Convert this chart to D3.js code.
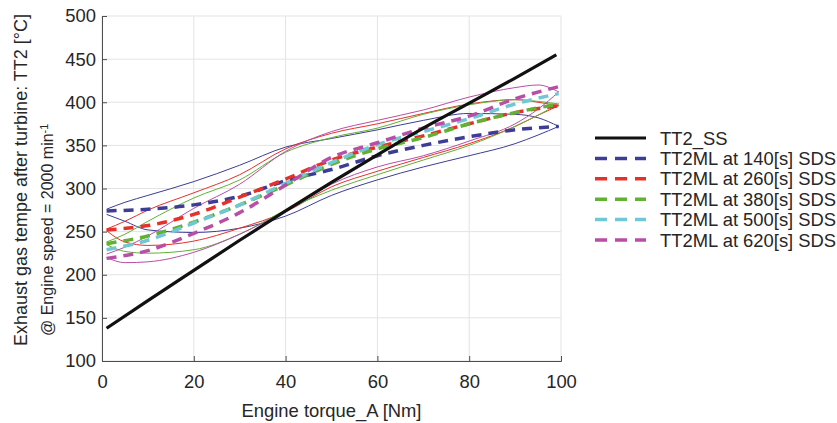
<!DOCTYPE html>
<html>
<head>
<meta charset="utf-8">
<script src="https://cdn.jsdelivr.net/npm/d3@7"></script>
<style>
  body { margin: 0; background: #fff; }
  text { font-family: "Liberation Sans", Arial, sans-serif; fill: #262626; }
</style>
</head>
<body>
<div id="div_canvas"></div>
<script>
// x positions of the sampled points
var xSS = [1, 10, 20, 30, 40, 50, 60, 70, 80, 90, 99];
var xMean = [1, 10, 20, 30, 40, 50, 60, 70, 80, 90, 99.5];
var xLoop = [1, 5, 10, 20, 30, 40, 50, 60, 70, 80, 90, 95, 99.5];

// steady state
var tt2SS = [138, 170, 205, 240, 274, 307, 339, 370, 399, 428, 455];

// dashed mean lines
var mean140 = [274, 276, 281, 291, 309, 322, 338, 350, 360, 368, 372];
var mean260 = [252, 257, 270, 290, 311, 333, 348, 361, 375, 388, 396];
var mean380 = [236, 245, 261, 281, 304, 328, 346, 359, 375, 388, 398];
var mean500 = [229, 240, 260, 281, 306, 330, 351, 366, 381, 398, 410];
var mean620 = [219, 228, 248, 272, 304, 336, 353, 370, 384, 404, 418];

// thin hysteresis loops (upper and lower branch)
var up140 = [276, 284, 292, 308, 327, 348, 358, 368, 379, 387, 386, 382, 372];
var lo140 = [270, 262, 252, 249, 254, 268, 292, 310, 325, 338, 352, 362, 372];
var up260 = [253, 262, 275, 295, 316, 346, 364, 375, 387, 398, 403, 400, 396];
var lo260 = [251, 238, 234, 239, 254, 273, 302, 320, 336, 352, 372, 385, 396];
var up380 = [238, 247, 262, 289, 310, 342, 359, 370, 386, 397, 403, 401, 398];
var lo380 = [235, 227, 225, 229, 247, 275, 298, 316, 333, 350, 372, 385, 398];
var up620 = [224, 232, 245, 277, 305, 343, 366, 379, 391, 406, 417, 420, 412];
var lo620 = [220, 214, 215, 226, 247, 274, 305, 325, 338, 355, 375, 392, 412];

var yTicks = [100, 150, 200, 250, 300, 350, 400, 450, 500];
var xTicks = [0, 20, 40, 60, 80, 100];

var legendNames = ["TT2_SS", "TT2ML at 140[s] SDS", "TT2ML at 260[s] SDS",
    "TT2ML at 380[s] SDS", "TT2ML at 500[s] SDS", "TT2ML at 620[s] SDS"];
var colors = ["#111111", "#3d3d97", "#e8302b", "#61b133", "#6fc8d4", "#b84ea6"];

var margin = { left: 102, top: 16 };
var width = 459;
var height = 345;

var svg = d3.select("#div_canvas").append("svg")
    .attr("width", 837)
    .attr("height", 423);

var g = svg.append("g")
    .attr("transform", "translate(" + margin.left + "," + margin.top + ")");

var x = d3.scaleLinear().domain([0, 100]).range([0, width]);
var y = d3.scaleLinear().domain([100, 500]).range([height, 0]);

// grid
g.selectAll(".gx").data(xTicks).enter().append("line")
    .attr("x1", d => x(d)).attr("x2", d => x(d))
    .attr("y1", 0).attr("y2", height)
    .attr("stroke", "#e3e3e3").attr("stroke-width", 1);
g.selectAll(".gy").data(yTicks).enter().append("line")
    .attr("x1", 0).attr("x2", width)
    .attr("y1", d => y(d)).attr("y2", d => y(d))
    .attr("stroke", "#e3e3e3").attr("stroke-width", 1);

// axes
var xAxis = d3.axisBottom(x).tickValues(xTicks).tickSize(-5).tickPadding(14);
var gx = g.append("g").attr("transform", "translate(0," + height + ")").call(xAxis);
var yAxis = d3.axisLeft(y).tickValues(yTicks).tickSize(-5).tickPadding(6);
var gy = g.append("g").call(yAxis);
[gx, gy].forEach(a => {
    a.select(".domain").attr("stroke", "#4d4d4d");
    a.selectAll(".tick line").attr("stroke", "#4d4d4d");
    a.selectAll("text").style("font-size", "18.4px")
        .style("font-family", "'Liberation Sans', Arial, sans-serif").attr("fill", "#262626");
});

function pts(xs, ys) {
    return xs.map((v, i) => [v, ys[i]]);
}
var line = d3.line()
    .x(d => x(d[0]))
    .y(d => y(d[1]))
    .curve(d3.curveMonotoneX);

// thin loops
var loops = [
    [up140, lo140, colors[1]],
    [up260, lo260, colors[2]],
    [up380, lo380, colors[3]],
    [up620, lo620, colors[5]]
];
loops.forEach(l => {
    [l[0], l[1]].forEach(s => {
        g.append("path").attr("d", line(pts(xLoop, s)))
            .attr("fill", "none").attr("stroke", l[2]).attr("stroke-width", 1);
    });
});

// dashed mean lines
var means = [mean140, mean260, mean380, mean500, mean620];
means.forEach((m, i) => {
    g.append("path").attr("d", line(pts(xMean, m)))
        .attr("fill", "none").attr("stroke", colors[i + 1])
        .attr("stroke-width", 3.5).attr("stroke-dasharray", "10,7");
});

// steady state line
g.append("path").attr("d", line(pts(xSS, tt2SS)))
    .attr("fill", "none").attr("stroke", colors[0]).attr("stroke-width", 3.2);

// axis labels
svg.append("text").attr("x", 331.5).attr("y", 417)
    .attr("text-anchor", "middle").style("font-size", "18.4px")
    .text("Engine torque_A [Nm]");

svg.append("text").attr("transform", "translate(27,346) rotate(-90)")
    .attr("text-anchor", "start").style("font-size", "18px")
    .text("Exhaust gas tempe after turbine: TT2 [°C]");

var l2 = svg.append("text").attr("transform", "translate(53,336) rotate(-90)")
    .attr("text-anchor", "start").style("font-size", "16px");
l2.append("tspan").text("@ Engine speed = 2000 min");
l2.append("tspan").attr("dy", "-0.5em").style("font-size", "11px").text("-1");

// legend
var legend = svg.append("g").attr("transform", "translate(595,138)");
legendNames.forEach((name, i) => {
    var row = legend.append("g").attr("transform", "translate(0," + (i * 20.4) + ")");
    row.append("line").attr("x1", 0).attr("x2", 51).attr("y1", 0).attr("y2", 0)
        .attr("stroke", colors[i]).attr("stroke-width", i == 0 ? 3.2 : 3.5)
        .attr("stroke-dasharray", i == 0 ? null : "12,8");
    row.append("text").attr("x", 65).attr("y", 6.5).style("font-size", "18.4px").text(name);
});
</script>
</body>
</html>
